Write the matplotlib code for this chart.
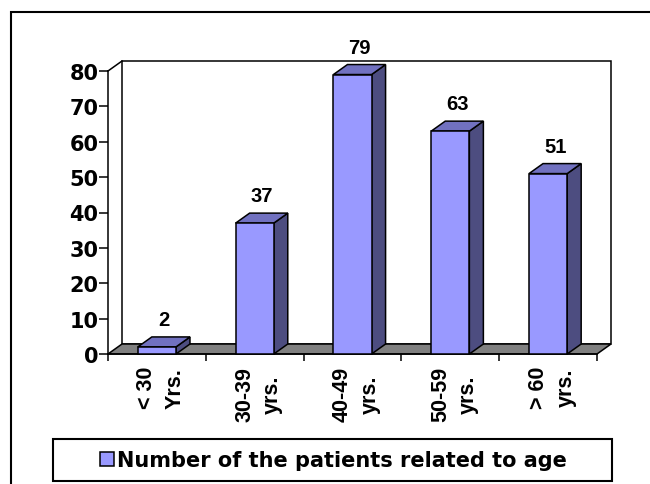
import matplotlib
matplotlib.use("Agg")
import matplotlib.pyplot as plt
from matplotlib.patches import Polygon, Rectangle
from matplotlib.transforms import ScaledTranslation

# data
categories = ['< 30\nYrs.', '30-39\nyrs.', '40-49\nyrs.', '50-59\nyrs.', '> 60\nyrs.']
patients = [2, 37, 79, 63, 51]
series_name = 'Number of the patients related to age'
y_ticks = list(range(0, 81, 10))

FRONT = '#9999FF'
TOP = '#7171C0'
SIDE = '#4D4D80'
FLOOR = '#808080'
WIDE = ['DejaVu Sans']        # horizontal text in the source is stretched wide
NARROW = ['Liberation Sans', 'DejaVu Sans']

plt.rcParams['font.family'] = WIDE
plt.rcParams['font.weight'] = 'bold'
plt.rcParams['font.size'] = 15

W, H = 650, 485
fig = plt.figure(figsize=(W / 100, H / 100), dpi=100)
ax = fig.add_axes([108 / W, (H - 355) / H, (597 - 108) / W, (355 - 72) / H])
ax.set_xlim(0, len(categories))
ax.set_ylim(0, 80)
ax.patch.set_visible(False)

# depth offset of the fake 3d look, in data units
DX = 14 / 97.8
DY = 10 / 3.54
LW = 1.1
n = len(categories)

# back wall and floor
ax.add_patch(Rectangle((DX, DY), n, 80, facecolor='white', edgecolor='black',
                       lw=LW, clip_on=False, zorder=1))
ax.add_patch(Polygon([(0, 0), (n, 0), (n + DX, DY), (DX, DY)], closed=True,
                     facecolor=FLOOR, edgecolor='black', lw=LW, clip_on=False, zorder=2))
ax.plot([0, DX], [80, 80 + DY], color='black', lw=LW, clip_on=False, zorder=2)

# bars
half = 0.195
for i, v in enumerate(patients):
    c = i + 0.5
    x0, x1 = c - half, c + half
    side = Polygon([(x1, 0), (x1 + DX, DY), (x1 + DX, v + DY), (x1, v)], closed=True,
                   facecolor=SIDE, edgecolor='black', lw=LW, clip_on=False, zorder=3)
    top = Polygon([(x0, v), (x1, v), (x1 + DX, v + DY), (x0 + DX, v + DY)], closed=True,
                  facecolor=TOP, edgecolor='black', lw=LW, clip_on=False, zorder=3)
    front = Rectangle((x0, 0), 2 * half, v, facecolor=FRONT, edgecolor='black',
                      lw=LW, clip_on=False, zorder=4)
    for p in (side, top, front):
        ax.add_patch(p)
    ax.text(c + DX / 2, v + DY + 3.4, str(v), ha='center', va='baseline',
            family=NARROW, fontsize=14.5, fontweight='bold', zorder=5)

# axes
for s in ('top', 'right'):
    ax.spines[s].set_visible(False)
ax.spines['left'].set_linewidth(LW)
ax.spines['bottom'].set_linewidth(LW)
ax.spines['left'].set_zorder(6)

ax.set_yticks(y_ticks)
ax.tick_params(axis='y', length=6.5, width=LW, pad=0.5, labelsize=15)
ax.set_xticks(range(n + 1))
ax.set_xticklabels([''] * (n + 1))
ax.tick_params(axis='x', which='major', length=5, width=LW)
ax.set_xticks([i + 0.5 for i in range(n)], categories, minor=True)
ax.tick_params(axis='x', which='minor', length=0, pad=8.6, labelsize=15.5)
nudge = ScaledTranslation(4 / 100, 0, fig.dpi_scale_trans)
for lbl in ax.get_xticklabels(minor=True):
    lbl.set_family(NARROW)
    lbl.set_rotation(90)
    lbl.set_va('top')
    lbl.set_ha('center')
    lbl.set_multialignment('center')
    lbl.set_linespacing(1.43)
    lbl.set_fontweight('bold')
    lbl.set_transform(lbl.get_transform() + nudge)

# legend with a fixed frame like the original
handle = Rectangle((0, 0), 1, 1, facecolor=FRONT, edgecolor='black', lw=LW)
fig.legend([handle], [series_name], loc='center',
           bbox_to_anchor=(333.5 / W, (H - 461) / H), frameon=False,
           handlelength=0.67, handleheight=0.67, handletextpad=0.15,
           prop={'size': 15, 'weight': 'bold'})
fig.add_artist(Rectangle((53 / W, (H - 482) / H), (612 - 53) / W, 42 / H,
                         transform=fig.transFigure, fill=False, lw=1.5, ec='black'))

# outer chart frame (runs off the right and bottom edge)
fig.add_artist(Rectangle((10.5 / W, -0.05), 1.2, (H - 12.5) / H + 0.05,
                         transform=fig.transFigure, fill=False, lw=1.5, ec='black'))

fig.savefig('out.png', dpi=100)
